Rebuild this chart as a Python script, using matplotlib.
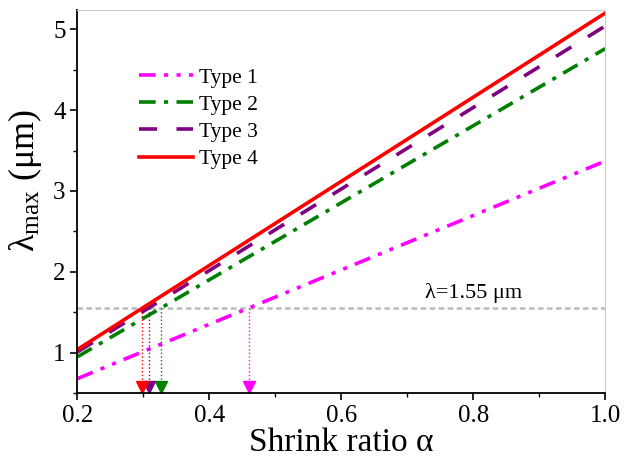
import numpy as np
import matplotlib
matplotlib.use("Agg")
import matplotlib.pyplot as plt

# Daten
alpha = [0.2, 1.0]
type1 = [0.68, 3.37]
type2 = [0.95, 4.76]
type3 = [1.01, 5.04]
type4 = [1.04, 5.20]
labels = ["Type 1", "Type 2", "Type 3", "Type 4"]
colors = ["#FF00FF", "#008000", "#800080", "#FF0000"]
lam_target = 1.55
cross_alpha = [0.460, 0.326, 0.308, 0.298]  # Schnittpunkte mit 1.55 um

plt.rcParams["font.family"] = ["Liberation Serif", "DejaVu Serif"]
plt.rcParams["mathtext.fontset"] = "custom"
plt.rcParams["mathtext.rm"] = "Liberation Serif"
plt.rcParams["mathtext.it"] = "Liberation Serif:italic"
plt.rcParams["lines.scale_dashes"] = False

fig = plt.figure(figsize=(6.24, 4.67), dpi=100)
ax = fig.add_axes([0.124, 0.158, 0.846, 0.821])

styles = [
    (0, (12, 6, 3, 6, 3, 6)),
    (0, (12, 6, 3, 6)),
    (0, (13, 14)),
    "-",
]
series = [type1, type2, type3, type4]
for vals, lab, col, ls in zip(series, labels, colors, styles):
    ax.plot(alpha, vals, color=col, linestyle=ls, linewidth=2.6, label=lab)

# Referenzlinie
ax.axhline(lam_target, color="#BBBBBB", linestyle=(0, (4, 2.5)), linewidth=1.8, zorder=0)
ax.text(0.8, lam_target + 0.07, "λ=1.55 μm", fontsize=16, ha="center", va="bottom")

# Pfeile nach unten
ymin = 0.5
for xa, col in zip(cross_alpha, colors):
    ax.plot([xa, xa], [lam_target, ymin + 0.1], color=col, linestyle=":", linewidth=1.0)
    ax.plot(xa, ymin + 0.075, marker="v", color=col, markersize=8, clip_on=False)

ax.set_xlim(0.2, 1.0)
ax.set_ylim(ymin, 5.24)
ax.set_xticks([0.2, 0.4, 0.6, 0.8, 1.0])
ax.set_xticks([0.3, 0.5, 0.7, 0.9], minor=True)
ax.set_yticks([1, 2, 3, 4, 5])
ax.set_yticks([0.5, 1.5, 2.5, 3.5, 4.5], minor=True)
ax.tick_params(which="major", direction="out", length=5, width=1.2, labelsize=18)
ax.tick_params(which="minor", direction="out", length=3, width=1.0)
ax.spines["top"].set_color("#CCCCCC")
ax.spines["right"].set_color("#CCCCCC")
ax.spines["left"].set_linewidth(1.3)
ax.spines["bottom"].set_linewidth(1.3)

ax.set_xlabel("Shrink ratio α", fontsize=24, labelpad=0)
ax.set_ylabel("λ$_{\\mathrm{max}}$ (μm)", fontsize=26)
ax.yaxis.set_label_coords(-0.064, 0.555)

ax.legend(loc="upper left", bbox_to_anchor=(0.08, 0.90), frameon=False, fontsize=15.5,
          handlelength=2.5, handletextpad=0.3, labelspacing=0.33)

plt.savefig("out.png", dpi=100)
